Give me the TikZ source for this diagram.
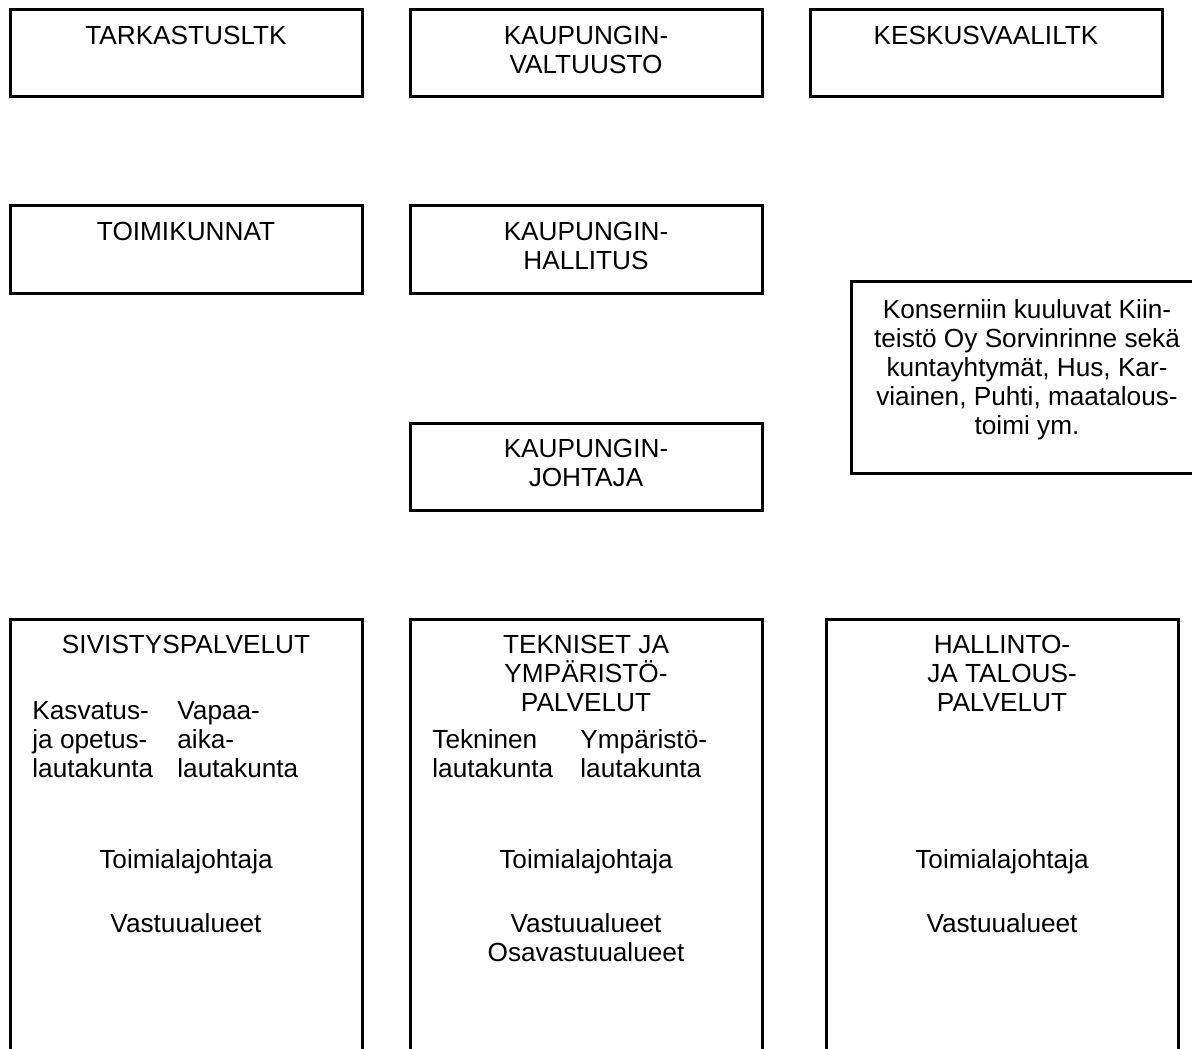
\documentclass[tikz,border=0pt]{standalone}
\usepackage{fontspec}
\setmainfont{Liberation Sans}
\usetikzlibrary{positioning}
\tikzstyle{box} = [rectangle, draw, line width=1.5pt, outer sep=0pt, inner sep=0pt, minimum width=176pt, minimum height=43.5pt]
\tikzstyle{bigbox} = [box, minimum height=250pt]
\tikzstyle{notebox} = [box, minimum height=96pt]
\tikzstyle{txt} = [anchor=north, inner sep=0pt, align=center, font=\fontsize{13.1}{14.5}\selectfont]
\tikzstyle{coltxt} = [txt, anchor=north west, align=left]

\begin{document}
\begin{tikzpicture}[x=0.5pt,y=-0.5pt]
					\useasboundingbox (0,0) rectangle (1192,1048);
					% ylin rivi
					\node[box] (tark) at (186,53.5) {};
					\node[box,right=24pt of tark] (valt) {};
					\node[box,right=24pt of valt] (kesk) {};
					\node[txt] (tarkT) at ([yshift=-8pt]tark.north) {TARKASTUSLTK};
					\node[txt] (valtT) at ([yshift=-8pt]valt.north) {KAUPUNGIN-\\VALTUUSTO};
					\node[txt] (keskT) at ([yshift=-8pt]kesk.north) {KESKUSVAALILTK};
					% hallitus ja toimikunnat
					\node[box,below=54.5pt of tark] (toim) {};
					\node[box,right=24pt of toim] (hall) {};
					\node[txt] (toimT) at ([yshift=-8pt]toim.north) {TOIMIKUNNAT};
					\node[txt] (hallT) at ([yshift=-8pt]hall.north) {KAUPUNGIN-\\HALLITUS};
					\node[notebox] (kons) at (1027,377) {};
					\node[txt] (konsT) at ([yshift=-9pt]kons.north) {Konserniin kuuluvat Kiin-\\teistö Oy Sorvinrinne sekä\\kuntayhtymät, Hus, Kar-\\viainen, Puhti, maatalous-\\toimi ym.};
					% johtaja
					\node[box,below=65pt of hall] (joht) {};
					\node[txt] (johtT) at ([yshift=-8pt]joht.north) {KAUPUNGIN-\\JOHTAJA};
					% toimialat
					\node[bigbox,below=54.5pt of joht,anchor=north] (tekn) {};
					\node[bigbox,left=24pt of tekn] (sivi) {};
					\node[bigbox,right=32pt of tekn] (halto) {};
					\node[txt] (siviT) at ([yshift=-8pt]sivi.north) {SIVISTYSPALVELUT};
					\node[coltxt] (kasv) at ([xshift=11pt,yshift=-41pt]sivi.north west) {Kasvatus-\\ja opetus-\\lautakunta};
					\node[coltxt] (vapa) at ([xshift=83.5pt,yshift=-41pt]sivi.north west) {Vapaa-\\aika-\\lautakunta};
					\node[txt] (siviJ) at ([yshift=-115pt]sivi.north) {Toimialajohtaja};
					\node[txt] (siviV) at ([yshift=-147pt]sivi.north) {Vastuualueet};
					\node[txt] (teknT) at ([yshift=-8pt]tekn.north) {TEKNISET JA\\YMPÄRISTÖ-\\PALVELUT};
					\node[coltxt] (tekl) at ([xshift=11pt,yshift=-55pt]tekn.north west) {Tekninen\\lautakunta};
					\node[coltxt] (ympl) at ([xshift=85pt,yshift=-55pt]tekn.north west) {Ympäristö-\\lautakunta};
					\node[txt] (teknJ) at ([yshift=-115pt]tekn.north) {Toimialajohtaja};
					\node[txt] (teknV) at ([yshift=-147pt]tekn.north) {Vastuualueet\\Osavastuualueet};
					\node[txt] (haltoT) at ([yshift=-8pt]halto.north) {HALLINTO-\\JA TALOUS-\\PALVELUT};
					\node[txt] (haltoJ) at ([yshift=-115pt]halto.north) {Toimialajohtaja};
					\node[txt] (haltoV) at ([yshift=-147pt]halto.north) {Vastuualueet};
\end{tikzpicture}
\end{document}
